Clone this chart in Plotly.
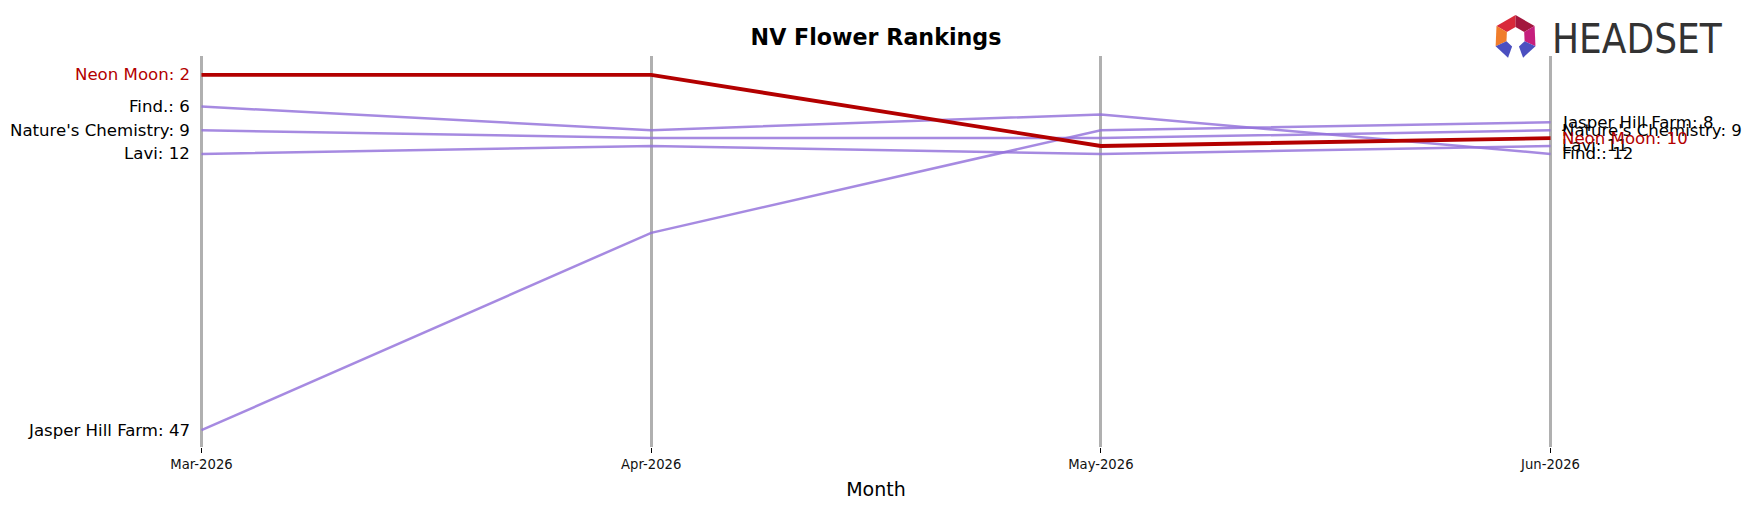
import plotly.graph_objects as go
import math

months = ["Mar-2026", "Apr-2026", "May-2026", "Jun-2026"]
neon_moon = [2, 2, 11, 10]
find = [6, 9, 7, 12]
natures_chemistry = [9, 10, 10, 9]
lavi = [12, 11, 12, 11]
jasper_hill_farm = [47, 22, 9, 8]

brands = [
    ("Find.", find),
    ("Nature's Chemistry", natures_chemistry),
    ("Lavi", lavi),
    ("Jasper Hill Farm", jasper_hill_farm),
]
highlight = ("Neon Moon", neon_moon)

W, H = 1752, 507
PL, PR = 178.5, 1573.5   # plot area pixel edges
PT, PB = 56, 447

PURPLE = "rgba(147,112,219,0.82)"
RED = "#B30000"
FONT = "DejaVu Sans"

x = list(range(len(months)))
fig = go.Figure()

for name, vals in brands:
    fig.add_trace(go.Scatter(x=x, y=vals, mode="lines", name=name,
                             line=dict(color=PURPLE, width=2.5), showlegend=False,
                             hoverinfo="skip"))
fig.add_trace(go.Scatter(x=x, y=highlight[1], mode="lines", name=highlight[0],
                         line=dict(color=RED, width=3.8), showlegend=False,
                         hoverinfo="skip"))

annotations = []
for name, vals, col in [(n, v, "black") for n, v in brands] + [(highlight[0], highlight[1], RED)]:
    annotations.append(dict(x=x[0], y=vals[0], xref="x", yref="y", text=f"{name}: {vals[0]}",
                            showarrow=False, xanchor="right", yanchor="middle", xshift=-9,
                            font=dict(family=FONT, size=16.6, color=col)))
    annotations.append(dict(x=x[-1], y=vals[-1], xref="x", yref="y", text=f"{name}: {vals[-1]}",
                            showarrow=False, xanchor="left", yanchor="middle", xshift=9,
                            font=dict(family=FONT, size=16.6, color=col)))


def px2paper(px, py):
    return (px - PL) / (PR - PL), (PB - py) / (PB - PT)


# Headset logo text
lx, ly = px2paper(1550, 39)
annotations.append(dict(x=lx, y=ly, xref="paper", yref="paper", text="HEADSET", showarrow=False,
                        xanchor="left", yanchor="middle",
                        font=dict(family="Liberation Sans Narrow, DejaVu Sans Condensed", size=40,
                                  color="#333333")))

# Headset icon: ring segments
cx, cy, ro, ri = 1516, 37, 22, 10
segs = [
    (90, 150, "#D92A3A"),
    (30, 90, "#A3173E"),
    (150, 205, "#F07D2B"),
    (-25, 30, "#C61F7D"),
    (205, 250, "#4B4FC0"),
    (290, 335, "#4B4FC0"),
]
shapes = []
for a0, a1, col in segs:
    pts = []
    for a in (a0, a1):
        r = math.radians(a)
        pts.append((cx + ro * math.cos(r), cy - ro * math.sin(r)))
    for a in (a1, a0):
        r = math.radians(a)
        pts.append((cx + ri * math.cos(r), cy - ri * math.sin(r)))
    pp = [px2paper(*p) for p in pts]
    path = "M " + " L ".join(f"{a:.5f},{b:.5f}" for a, b in pp) + " Z"
    shapes.append(dict(type="path", path=path, xref="paper", yref="paper",
                       fillcolor=col, line=dict(width=0), layer="above"))
for a, sgn in ((250, -1), (290, 1)):
    r = math.radians(a)
    p1 = (cx + ro * math.cos(r), cy - ro * math.sin(r))
    p2 = (cx + ri * math.cos(r), cy - ri * math.sin(r))
    p3 = (cx + sgn * 8, 59)
    pp = [px2paper(*p) for p in (p1, p2, p3)]
    path = "M " + " L ".join(f"{a:.5f},{b:.5f}" for a, b in pp) + " Z"
    shapes.append(dict(type="path", path=path, xref="paper", yref="paper",
                       fillcolor="#2B2F8F", line=dict(width=0), layer="above"))

fig.update_layout(
    width=W, height=H,
    margin=dict(l=PL, r=W - PR, t=PT, b=H - PB, autoexpand=False),
    paper_bgcolor="white", plot_bgcolor="white",
    title=dict(text="<b>NV Flower Rankings</b>", x=0.5, xanchor="center", y=1 - 37 / H,
               yanchor="middle", font=dict(family=FONT, size=22.2, color="black")),
    xaxis=dict(range=[-0.05, 3.05], tickmode="array", tickvals=x, ticktext=months,
               showgrid=True, gridcolor="#B0B0B0", gridwidth=2.5, zeroline=False,
               showline=False, ticks="outside", ticklen=5, tickcolor="black", tickwidth=1,
               tickfont=dict(family=FONT, size=13.2, color="#111"),
               title=dict(text="Month", font=dict(family=FONT, size=19, color="black"), standoff=11)),
    yaxis=dict(range=[49.13, -0.40], showgrid=False, zeroline=False, showticklabels=False,
               showline=False, ticks=""),
    annotations=annotations,
    shapes=shapes,
)

fig.write_html("out.html")
